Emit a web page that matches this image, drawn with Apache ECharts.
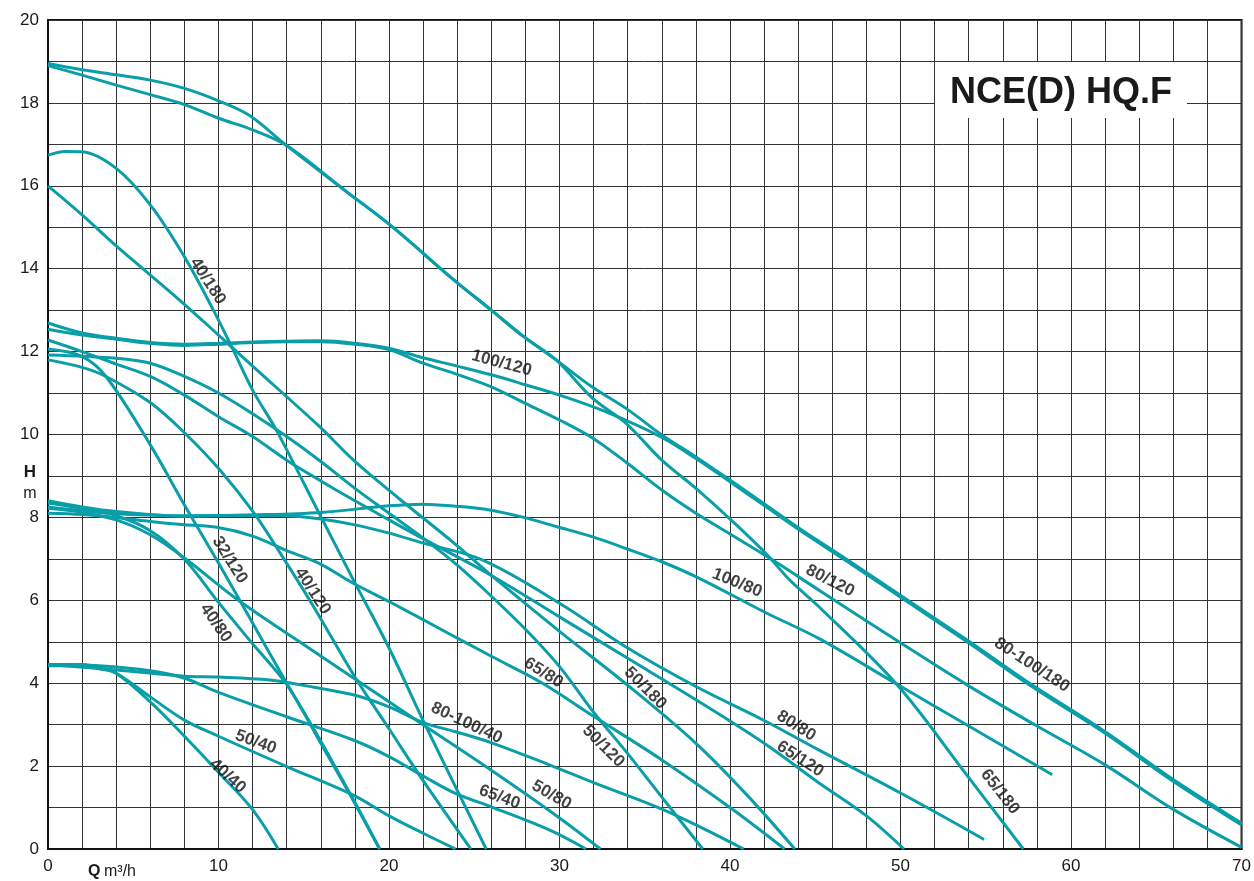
<!DOCTYPE html>
<html><head><meta charset="utf-8">
<script src="https://cdn.jsdelivr.net/npm/echarts@6/dist/echarts.min.js"></script>
<style>html,body{margin:0;padding:0;background:#fff}#c{width:1254px;height:881px}</style>
</head><body><div id="c"></div>
<script>
// ---- data (Q m3/h, H m) ----
const c40_40 = [[0,4.45],[2,4.45],[3,4.38],[4,4.24],[6,3.55],[8,2.72],[10,1.85],[12,0.95],[13.5,0]];
const c50_40 = [[0,4.42],[2,4.42],[3,4.35],[4,4.24],[6,3.67],[8,3.11],[10,2.72],[14,1.99],[17.9,1.3],[20,0.8],[22,0.38],[23.9,0]];
const c65_40 = [[0,4.45],[3,4.42],[6,4.3],[8,4.12],[10,3.78],[14,3.19],[17.9,2.63],[20,2.23],[22,1.76],[23.9,1.34],[26.1,1.0],[29.4,0.46],[31.55,0]];
const c80_100_40 = [[0,4.45],[4,4.32],[8,4.17],[10,4.15],[13,4.08],[14.8,3.96],[17.9,3.72],[20,3.43],[22,3.05],[23.9,2.83],[26.1,2.55],[29.4,2.03],[32,1.6],[35.9,0.98],[38.5,0.48],[40.8,0]];

const c40_80 = [[0,8.35],[2,8.22],[4,8.04],[6,7.68],[8,6.99],[10,5.95],[12,4.95],[14,3.97],[16,2.55],[18,1.1],[19.45,0]];
const c50_80 = [[0,8.22],[2,8.12],[4,7.94],[6,7.58],[8,7.02],[11,6.05],[14.6,5.04],[18,4.1],[22,3.0],[26,1.9],[30,0.75],[32.4,0]];
const c65_80 = [[0,8.1],[2,8.07],[4,8.0],[6,7.9],[8,7.82],[9.9,7.76],[12,7.55],[14,7.2],[15.9,6.89],[17.9,6.41],[20,5.97],[23.5,5.2],[26,4.65],[29,4.0],[32,3.2],[36,2.15],[40,1.0],[43.2,0]];
const c80_80 = [[0,8.25],[2,8.16],[4,8.09],[8,8.04],[12,8.05],[14,8.04],[16,7.96],[18,7.82],[20,7.62],[22,7.38],[25.5,6.97],[30,5.93],[34,4.85],[38,3.92],[42,3.1],[45.2,2.39],[50,1.35],[54.9,0.23]];
const c100_80 = [[0,8.4],[2,8.25],[4,8.14],[8,8.03],[12,8.06],[16,8.12],[20,8.28],[22,8.32],[23.9,8.27],[25.9,8.18],[27.9,8.0],[29.8,7.78],[31.95,7.53],[33.9,7.25],[36,6.93],[38.2,6.53],[42.1,5.7],[45.2,5.08],[49.9,3.95],[53.9,2.99],[58.9,1.79]];

const c32_120 = [[0,12.06],[2,11.88],[3.4,11.4],[6,9.75],[8,8.3],[10,6.9],[12,5.45],[14,4.0],[16,2.6],[18,1.12],[19.45,0]];
const c40_120 = [[0,11.8],[2,11.62],[3.4,11.4],[6.07,10.75],[8.03,10.03],[10.07,9.15],[12,8.15],[13.6,7.15],[15.5,5.9],[18,4.15],[20,2.9],[22,1.65],[24.8,0]];
const c50_120 = [[0,11.92],[4,11.84],[6,11.72],[8,11.4],[10,11.0],[12,10.5],[14,9.95],[16,9.35],[18,8.7],[20,8.1],[22,7.5],[24,6.85],[26,6.1],[28,5.3],[30,4.4],[32,3.3],[34,2.3],[36,1.25],[38.4,0]];
const c65_120 = [[0,12.28],[2,12.0],[4,11.7],[6,11.4],[8,10.95],[10,10.43],[12,9.95],[14,9.38],[16,8.88],[18,8.4],[20,7.94],[21.8,7.53],[26,6.6],[30,5.6],[34,4.6],[38,3.6],[42,2.55],[45.2,1.6],[48,0.8],[50.2,0]];
const c80_120 = [[0,12.54],[2,12.4],[4,12.3],[6,12.2],[8,12.15],[10,12.18],[12,12.22],[14,12.24],[16,12.24],[18,12.18],[20,12.05],[22,11.72],[24,11.45],[26,11.15],[28,10.75],[30,10.35],[32,9.9],[34,9.3],[36,8.66],[38,8.1],[40,7.6],[42.5,6.97],[45.2,6.25],[49.9,5.0],[53.9,3.96],[57.9,2.99],[62,2.03],[65.9,0.98],[70,0.04]];
const c100_120 = [[0,12.69],[2,12.45],[4,12.32],[6,12.22],[8,12.18],[10,12.2],[12,12.23],[14,12.25],[16,12.26],[18,12.2],[20,12.08],[22,11.85],[24,11.65],[26,11.44],[28,11.2],[30,10.95],[32.7,10.55],[36,9.93],[38,9.42],[40,8.86],[42.1,8.26],[44.05,7.7],[46.9,6.93],[53.9,5.0],[57.7,3.92],[62,2.79],[65.9,1.66],[70,0.58]];

const c40_180 = [[0,16.74],[1,16.83],[2,16.82],[4,16.42],[6,15.54],[8,14.29],[9.7,13.0],[10.86,12.04],[12,11.07],[13.4,10.1],[15.9,8.1],[17.9,6.5],[20,4.85],[22,3.1],[23.9,1.5],[25.7,0]];
const c50_180 = [[0,16.0],[2,15.3],[4,14.55],[7.7,13.25],[10,12.4],[12,11.65],[15.9,10.2],[18,9.35],[20.6,8.45],[23.9,7.35],[26,6.6],[30,5.25],[34,3.95],[38,2.55],[41,1.3],[43.8,0]];
const c65_180 = [[0,18.95],[2,18.8],[4,18.68],[6,18.55],[8,18.35],[10,18.05],[11.8,17.7],[14,16.97],[17.5,15.86],[20.2,15.01],[23.8,13.73],[26,13.0],[27.9,12.36],[29.8,11.8],[31.95,10.87],[33.9,10.27],[36,9.38],[38,8.7],[39.95,7.98],[42.1,7.13],[43.5,6.49],[45.2,5.85],[49.8,3.96],[53.8,1.83],[57.2,0]];
const c80_100_180 = [[0,18.9],[2,18.67],[4,18.43],[6,18.2],[8,17.96],[10,17.63],[12,17.35],[14,16.97],[17.5,15.86],[20.2,15.01],[23.8,13.73],[26,13.0],[27.9,12.36],[29.8,11.8],[31.9,11.15],[33.9,10.63],[36,9.99],[38,9.46],[40,8.9],[42.1,8.3],[44.05,7.74],[46.9,6.97],[53.9,5.04],[57.7,3.96],[62,2.83],[65.9,1.7],[70,0.62]];

const curves = [c40_40,c50_40,c65_40,c80_100_40,c40_80,c50_80,c65_80,c80_80,c100_80,
  c32_120,c40_120,c50_120,c65_120,c80_120,c100_120,c40_180,c50_180,c65_180,c80_100_180];

// curve labels: text, Q, H, rotation (deg)
const labelText = ['40/180','100/120','32/120','40/80','40/120','100/80','80/120','80-100/180','65/80','50/180','80-100/40','50/120','80/80','65/120','50/40','40/40','65/40','50/80','65/180'];
const labelQ    = [9.37, 26.6, 10.66, 9.84, 15.52, 40.42, 45.87, 57.7, 29.06, 35.03, 24.55, 32.57, 43.88, 44.11, 12.19, 10.54, 26.48, 29.53, 55.83];
const labelH    = [13.7, 11.72, 6.97, 5.45, 6.22, 6.42, 6.47, 4.44, 4.25, 3.88, 3.04, 2.48, 2.97, 2.17, 2.58, 1.76, 1.25, 1.3, 1.38];
const labelRot  = [-57, -15, -58, -55, -57, -22, -27, -33, -32, -45, -25, -45, -32, -33, -20, -42, -20, -30, -52];

const xTicks = [0,10,20,30,40,50,60,70];
const yTicks = [0,2,4,6,8,10,12,14,16,18,20];

// ---- chart ----
const chart = echarts.init(document.getElementById('c'), null, {renderer:'canvas'});
const teal = '#0a9ea8';
const ink = '#111111';
const FONT = '"Liberation Sans", Arial, Helvetica, sans-serif';
const labelStyle = {show:true, color:ink, fontWeight:'bold', fontSize:17, fontFamily:FONT,
  textBorderWidth:0, textBorderColor:ink, textShadowBlur:0, position:'inside'};
const series = curves.map(d => ({
  type:'line', data:d, smooth:0.35, symbol:'none', silent:true,
  lineStyle:{color:teal, width:3}, z:3
}));
series.push({
  type:'scatter', symbolSize:0, silent:true, z:5,
  itemStyle:{color:ink},
  data: labelText.map((t,i)=>({value:[labelQ[i],labelH[i]], name:t,
    label:Object.assign({}, labelStyle, {formatter:t, rotate:labelRot[i]})})),
  label:labelStyle
});

chart.setOption({
  animation:false,
  backgroundColor:'#fff',
  grid:{left:48, right:11, top:20, bottom:32, show:true, borderColor:'#111', borderWidth:2},
  xAxis:{type:'value', min:0, max:70, interval:2,
    axisLine:{show:true, lineStyle:{color:'#111', width:2}}, axisTick:{show:false},
    splitLine:{show:true, lineStyle:{color:'#333', width:1}},
    axisLabel:{color:'#1a1a1a', fontSize:17, fontFamily:FONT, margin:9,
      formatter:v => xTicks.includes(v) ? String(v) : ''}},
  yAxis:{type:'value', min:0, max:20, interval:1,
    axisLine:{show:true, lineStyle:{color:'#111', width:2}}, axisTick:{show:false},
    splitLine:{show:true, lineStyle:{color:'#333', width:1}},
    axisLabel:{color:'#1a1a1a', fontSize:17, fontFamily:FONT, margin:9,
      formatter:v => yTicks.includes(v) ? String(v) : ''}},
  graphic:[
    {type:'rect', shape:{x:935, y:62, width:252, height:56}, style:{fill:'#fff'}, z:10},
    {type:'text', x:1061, y:93, style:{text:'NCE(D) HQ.F', font:'bold 36px ' + FONT, fill:'#1a1a1a', textAlign:'center', textVerticalAlign:'middle'}, z:11},
    {type:'text', x:30, y:472, style:{text:'H', font:'bold 17px ' + FONT, fill:'#1a1a1a', textAlign:'center', textVerticalAlign:'middle'}, z:11},
    {type:'text', x:30, y:494, style:{text:'m', font:'16px ' + FONT, fill:'#1a1a1a', textAlign:'center', textVerticalAlign:'middle'}, z:11},
    {type:'text', x:88, y:872, style:{text:'Q', font:'bold 16px ' + FONT, fill:'#1a1a1a', textVerticalAlign:'middle'}, z:11},
    {type:'text', x:104, y:872, style:{text:'m³/h', font:'16px ' + FONT, fill:'#1a1a1a', textVerticalAlign:'middle'}, z:11}
  ],
  series
});
</script></body></html>
